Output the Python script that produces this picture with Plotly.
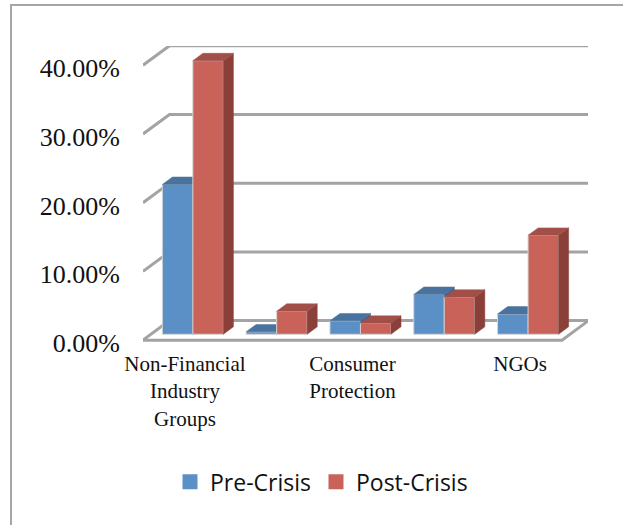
import plotly.graph_objects as go

# Data (percent)
positions = [0, 1, 2, 3, 4]
tick_positions = [0, 2, 4]
tick_labels = ["Non-Financial<br>Industry<br>Groups", "Consumer<br>Protection", "NGOs"]
pre_crisis = [21.8, 0.35, 1.95, 5.8, 2.95]
post_crisis = [39.8, 3.35, 1.6, 5.4, 14.4]
y_ticks = [0, 10, 20, 30, 40]
y_labels = ["0.00%", "10.00%", "20.00%", "30.00%", "40.00%"]

W, H = 623, 525
PER_CAT = 83.8
PER_PCT = 6.87
Y_MIN = -1.0                  # room under the floor for the lowest tick label
PX_L, PX_R = 143.0, 588.0     # plot area, px
PX_ZERO, PX_T = 340.0, 46.0
PX_B = PX_ZERO - Y_MIN * PER_PCT
DEPTH_X = 26.5 / PER_CAT      # oblique depth of the floor in axis units
DEPTH_Y = 19.5 / PER_PCT
X_MIN = -0.5
X_MAX = X_MIN + (PX_R - PX_L) / PER_CAT
Y_MAX = (PX_ZERO - PX_T) / PER_PCT
BAR_W = 30.5 / PER_CAT
F0, F1 = 0.30, 0.68           # bar depth front / back
LABEL_DROP = 0.4              # tick labels sit slightly under their gridline ends

GRID = "#A3A3A3"
BLUE, BLUE_TOP, = "#5B90C6", "#4A729F"
RED, RED_TOP, RED_SIDE = "#C9635A", "#A14F48", "#8A4039"
BLUE_SIDE = "#3F6690"


def faces(vals, off, side_col, top_col, name, xa, ya):
    out = []
    sx, sy, tx, ty = [], [], [], []
    fx, fy = F0 * DEPTH_X, F0 * DEPTH_Y
    bx, by = F1 * DEPTH_X, F1 * DEPTH_Y
    for p, v in zip(positions, vals):
        l = p + off + fx
        r = l + BAR_W
        dx, dy = bx - fx, by - fy
        y0, y1 = fy, v + fy
        sx += [r, r + dx, r + dx, r, r, None]
        sy += [y0, y0 + dy, y1 + dy, y1, y0, None]
        tx += [l, l + dx, r + dx, r, l, None]
        ty += [y1, y1 + dy, y1 + dy, y1, y1, None]
    for X, Y, c in ((sx, sy, side_col), (tx, ty, top_col)):
        out.append(go.Scatter(x=X, y=Y, mode="lines", fill="toself", fillcolor=c,
                              line=dict(color=c, width=0.5), hoverinfo="skip",
                              showlegend=False, xaxis=xa, yaxis=ya, name=name))
    return out


fig = go.Figure()
base = F0 * DEPTH_Y
xshift = F0 * DEPTH_X
edge = dict(color="#D4D4D4", width=1)
fig.add_trace(go.Bar(x=[p - BAR_W / 2 + xshift for p in positions], y=pre_crisis, base=base,
                     width=BAR_W, marker=dict(color=BLUE, line=edge), name="Pre-Crisis",
                     showlegend=False, xaxis="x", yaxis="y"))
for t in faces(pre_crisis, -BAR_W, BLUE_SIDE, BLUE_TOP, "Pre-Crisis", "x", "y"):
    fig.add_trace(t)
fig.add_trace(go.Bar(x=[p + BAR_W / 2 + xshift for p in positions], y=post_crisis, base=base,
                     width=BAR_W, marker=dict(color=RED, line=edge), name="Post-Crisis",
                     showlegend=False, xaxis="x2", yaxis="y2"))
for t in faces(post_crisis, 0, RED_SIDE, RED_TOP, "Post-Crisis", "x2", "y2"):
    fig.add_trace(t)

# legend entries
for nm, c in (("Pre-Crisis", BLUE), ("Post-Crisis", RED)):
    fig.add_trace(go.Scatter(x=[None], y=[None], mode="markers", name=nm,
                             marker=dict(symbol="square", size=15, color=c)))

# Oblique gridlines through the axis scales
shapes = []
for v in y_ticks:
    if v == 0:
        path = (f"M {X_MIN} 0 L {positions[-1] + 0.5} 0 L {positions[-1] + 0.5 + DEPTH_X} {DEPTH_Y} "
                f"L {X_MIN + DEPTH_X} {DEPTH_Y} Z")
    else:
        path = (f"M {X_MIN} {v} L {X_MIN + DEPTH_X} {v + DEPTH_Y} "
                f"L {positions[-1] + 0.5 + DEPTH_X} {v + DEPTH_Y}")
    shapes.append(dict(type="path", path=path, xref="x", yref="y", layer="below",
                       line=dict(color=GRID, width=3)))
# Outer chart frame (runs off the right and bottom of the page)
shapes.append(dict(type="rect", xref="paper", yref="paper", layer="below",
                   x0=(11 - PX_L) / (PX_R - PX_L), x1=(660 - PX_L) / (PX_R - PX_L),
                   y0=(PX_B - 560) / (PX_B - PX_T), y1=(PX_B - 5) / (PX_B - PX_T),
                   line=dict(color="#A6A6A6", width=2)))

serif = "Liberation Serif"
fig.update_layout(
    width=W, height=H, autosize=False,
    margin=dict(l=PX_L, r=W - PX_R, t=PX_T, b=H - PX_B, pad=0),
    paper_bgcolor="white", plot_bgcolor="rgba(0,0,0,0)",
    barmode="overlay", shapes=shapes,
    showlegend=True,
    legend=dict(orientation="h", x=(170 - PX_L) / (PX_R - PX_L), xanchor="left",
                y=(PX_B - 460) / (PX_B - PX_T), yanchor="top",
                font=dict(family="Open Sans", size=23, color="#111111"),
                bgcolor="rgba(0,0,0,0)"),
    xaxis=dict(range=[X_MIN, X_MAX], tickmode="array", tickvals=tick_positions, ticktext=tick_labels,
               showgrid=False, zeroline=False, showline=False, ticks="", ticklen=0,
               tickangle=0, tickfont=dict(family=serif, size=21, color="#111111"),
               ticklabelstandoff=2),
    yaxis=dict(range=[Y_MIN, Y_MAX], tickmode="array", tickvals=[v - LABEL_DROP for v in y_ticks],
               ticktext=y_labels,
               showgrid=False, zeroline=False, showline=False, ticks="",
               tickfont=dict(family=serif, size=26, color="#111111"),
               ticklabelstandoff=22),
    xaxis2=dict(range=[X_MIN, X_MAX], overlaying="x", visible=False),
    yaxis2=dict(range=[Y_MIN, Y_MAX], overlaying="y", visible=False),
)
fig.write_html("out.html", config=dict(displayModeBar=False),
               post_script="document.body.style.margin='0';document.body.style.overflow='hidden';")
